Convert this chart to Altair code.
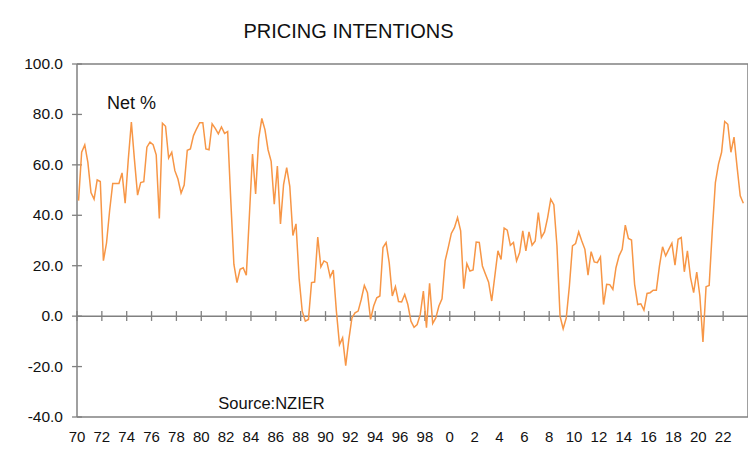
import altair as alt
import pandas as pd

# Quarterly net % values (1970Q1 .. 2023Q3)
v1970s = [45.8, 65, 67.9, 61,
          49, 46.4, 54, 53.4,
          22, 29, 41.8, 52.6,
          52.6, 52.6, 56.8, 44.8,
          62, 77, 62, 48,
          53, 53.3, 67, 69,
          68, 64, 38.7, 76.5,
          75.3, 62.7, 65, 57.7,
          54.4, 48.8, 52, 65.8,
          66.3, 71.6, 74.3, 76.7]
v1980s = [76.7, 66.3, 66, 76.3,
          74.5, 72.3, 75, 72.5,
          73.2, 46, 20.6, 13.3,
          18.6, 19.2, 16.2, 40,
          64.3, 48.5, 70.5, 78.4,
          74, 66, 61.4, 44.4,
          59.5, 36.6, 52.2, 58.9,
          51.5, 32, 36.6, 15,
          2, -2, -1.3, 13.3,
          13.5, 31.4, 19.5, 21.9]
v1990s = [21.2, 15.5, 18.3, 2,
          -11.3, -8.6, -19.6, -9.3,
          -0.7, 1.3, 2, 6.6,
          12.2, 9.3, -1.3, 4,
          7.3, 8, 27.2, 29.2,
          21.2, 8, 11.7, 5.8,
          5.6, 8.6, 4.6, -2,
          -4.4, -3.3, 0.7, 9.9,
          -4.6, 13, -2.9, -0.7,
          4, 6.9, 21.9, 27.2]
v2000s = [32.8, 35.1, 39.1, 33.8,
          10.9, 20.8, 17.9, 18.3,
          29.4, 29.2, 19.9, 16.6,
          13.5, 6, 15.9, 25.9,
          22.5, 34.9, 34.1, 28.1,
          29.2, 21.9, 25.2, 33.8,
          25.9, 33.4, 28.1, 29.8,
          41.1, 31.2, 33.4, 39.1,
          46.4, 44.2, 27.9, 0,
          -5, -0.7, 11.9, 27.9]
v2010s = [28.8, 33.4, 29.8, 26.5,
          16.3, 25.6, 21.5, 21.2,
          23.5, 4.6, 12.6, 12.5,
          10.6, 19.2, 23.9, 26.5,
          36.1, 30.8, 30.2, 12.6,
          4.6, 4.9, 2.4, 9,
          9.3, 10.3, 10.3, 19.9,
          27.5, 23.9, 26.5, 28.9,
          20.2, 30.5, 31.2, 17.6,
          25.9, 15.3, 9.3, 17.5]
v2020s = [8, -10.2, 11.7, 12.2,
          33.8, 53, 60.3, 65,
          77.2, 76.1, 65, 71,
          59, 47.7, 44.8]

start_year = 1970
x_tick_years = list(range(1970, 2024, 2))
x_tick_labels = ["70", "72", "74", "76", "78", "80", "82", "84", "86", "88",
                 "90", "92", "94", "96", "98", "0", "2", "4", "6", "8",
                 "10", "12", "14", "16", "18", "20", "22"]
y_tick_values = [100, 80, 60, 40, 20, 0, -20, -40]
y_tick_labels = ["100.0", "80.0", "60.0", "40.0", "20.0", "0.0", "-20.0", "-40.0"]
x_edges = [1970, 2024]
y_edges = [-40, 0, 100]

values = v1970s + v1980s + v1990s + v2000s + v2010s + v2020s
df = pd.DataFrame({
    "t": [start_year + i / 4 + 0.125 for i in range(len(values))],
    "v": values,
})
xdf = pd.DataFrame({"t": x_tick_years, "lab": x_tick_labels})
ydf = pd.DataFrame({"v": y_tick_values, "lab": y_tick_labels})
xedf = pd.DataFrame({"t": x_edges})
yedf = pd.DataFrame({"v": y_edges})

FONT = "Liberation Sans"
GRAY = "#808080"
TXT = "#111111"

xscale = alt.Scale(domain=[1970, 2024], nice=False, zero=False)
yscale = alt.Scale(domain=[-40, 100], nice=False, zero=False)


def X(f="t"):
    return alt.X(f"{f}:Q", scale=xscale, axis=None)


def Y(f="v"):
    return alt.Y(f"{f}:Q", scale=yscale, axis=None)


hlines = alt.Chart(yedf).mark_rule(color=GRAY, strokeWidth=1.5).encode(
    y=Y(), x=alt.X(datum=1970, scale=xscale, axis=None), x2=alt.datum(2024))

vlines = alt.Chart(xedf).mark_rule(color=GRAY, strokeWidth=1.5).encode(
    x=X(), y=alt.Y(datum=-40, scale=yscale, axis=None), y2=alt.datum(100))

xt = alt.Chart(xdf).mark_rule(color=GRAY, strokeWidth=1.3).encode(
    x=X(), y=alt.Y(datum=-1.9, scale=yscale, axis=None), y2=alt.datum(2.0))

yt = alt.Chart(ydf).mark_rule(color=GRAY, strokeWidth=1.3).encode(
    y=Y(), x=alt.X(datum=1969.6, scale=xscale, axis=None), x2=alt.datum(1970.4))

xlab = alt.Chart(xdf).mark_text(
    font=FONT, fontSize=15, color=TXT, align="center", baseline="middle").encode(
    x=X(), y=alt.value(373), text="lab:N")

ylab = alt.Chart(ydf).mark_text(
    font=FONT, fontSize=15.5, color=TXT, align="right", baseline="middle").encode(
    y=Y(), x=alt.value(-14), text="lab:N")

line = alt.Chart(df).mark_line(color="#F79646", strokeWidth=1.5).encode(
    x=X(), y=Y())

one = pd.DataFrame({"k": [0]})

title = alt.Chart(one).mark_text(
    text="PRICING INTENTIONS", font=FONT, fontSize=20, color=TXT,
    align="center", baseline="middle").encode(
    x=alt.value(271.5), y=alt.value(-32))

net = alt.Chart(one).mark_text(
    text="Net %", font=FONT, fontSize=18, color=TXT,
    align="left", baseline="middle").encode(
    x=alt.value(30), y=alt.value(40))

src = alt.Chart(one).mark_text(
    text="Source:NZIER", font=FONT, fontSize=16.5, color=TXT,
    align="center", baseline="middle").encode(
    x=alt.value(194.5), y=alt.value(340))

chart = alt.layer(hlines, vlines, xt, yt, line, xlab, ylab, title, net, src).properties(
    width=671, height=353,
    background="white",
    autosize=alt.AutoSizeParams(type="none"),
    padding={"left": 69, "top": 56, "right": 0, "bottom": 40},
).configure_view(strokeWidth=0)

chart.save("out.html", embed_options={"renderer": "svg", "actions": False})
